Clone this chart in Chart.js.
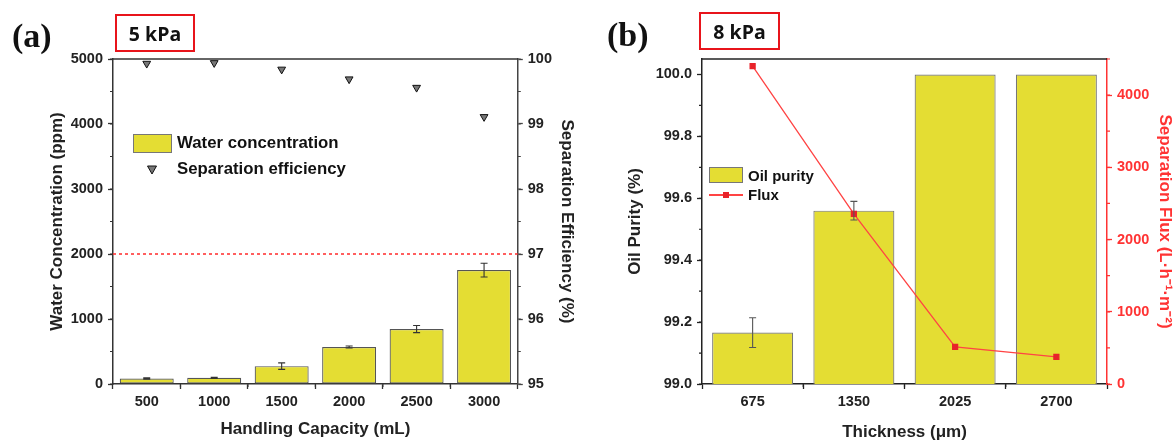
<!DOCTYPE html>
<html><head><meta charset="utf-8">
<script src="https://cdn.jsdelivr.net/npm/chart.js@4.4.1/dist/chart.umd.min.js"></script>
<style>
html,body{margin:0;padding:0;background:#fff;}
#wrap{position:relative;width:1176px;height:441px;overflow:hidden;font-family:'Liberation Sans',Arial,sans-serif;}
canvas{position:absolute;top:0;}
.lab{position:absolute;font-family:'Liberation Serif','Times New Roman',serif;font-weight:bold;font-size:34px;line-height:34px;color:#111;}
.kpa{position:absolute;border:2.5px solid #e8141b;box-sizing:border-box;font-family:'Open Sans',sans-serif;font-weight:bold;font-size:19.5px;display:flex;align-items:center;justify-content:center;color:#111;}
.leg{position:absolute;font-weight:bold;white-space:nowrap;color:#111;}
.sw{position:absolute;background:#E4DD33;box-sizing:border-box;border:1.5px solid #777;}
</style>
</head><body>
<div id="wrap">
  <canvas id="ca" width="590" height="441" style="left:0"></canvas>
  <canvas id="cb" width="586" height="441" style="left:590px"></canvas>

  <div class="lab" style="left:12px;top:19px;">(a)</div>
  <div class="kpa" style="left:115px;top:14px;width:80px;height:38px;">5 kPa</div>
  <div class="lab" style="left:607px;top:18px;">(b)</div>
  <div class="kpa" style="left:699px;top:12px;width:81px;height:38px;">8 kPa</div>

  <div class="sw" style="left:133px;top:134px;width:39px;height:19px;"></div>
  <div class="leg" style="left:177px;top:133px;height:20px;line-height:20px;font-size:16.8px;">Water concentration</div>
  <svg style="position:absolute;left:147px;top:165px;" width="10" height="10"><polygon points="0.5,1 9.5,1 5,9" fill="#777" stroke="#111" stroke-width="1"/></svg>
  <div class="leg" style="left:177px;top:159px;height:20px;line-height:20px;font-size:16.8px;">Separation efficiency</div>

  <div class="sw" style="left:709px;top:167px;width:34px;height:16px;"></div>
  <div class="leg" style="left:748px;top:166px;height:19px;line-height:19px;font-size:15px;">Oil purity</div>
  <div style="position:absolute;left:709px;top:194px;width:34px;height:1.5px;background:#f44;"></div>
  <div style="position:absolute;left:723px;top:192px;width:6px;height:6px;background:#e8232a;"></div>
  <div class="leg" style="left:748px;top:185px;height:19px;line-height:19px;font-size:15px;">Flux</div>
</div>
<script>
// ---------- data ----------
const capacity = ['500', '1000', '1500', '2000', '2500', '3000'];
const waterConc = [85, 95, 275, 570, 845, 1752];
const waterErr = [10, 8, 50, 15, 55, 105];
const sepEff = [99.93, 99.94, 99.84, 99.69, 99.56, 99.11];
const waterLimit = 2000;
const waterTicks = [0, 1000, 2000, 3000, 4000, 5000];
const effTicks = [95, 96, 97, 98, 99, 100];

const thickness = ['675', '1350', '2025', '2700'];
const oilPurity = [99.166, 99.56, 100.0, 100.0];
const oilErr = [0.048, 0.03, 0, 0];
const flux = [4400, 2355, 515, 375];
const purityTicks = [99.0, 99.2, 99.4, 99.6, 99.8, 100.0];
const fluxTicks = [0, 1000, 2000, 3000, 4000];

// ---------- styles ----------
const FONT = "'Liberation Sans', Arial, sans-serif";
Chart.defaults.font.family = FONT;
Chart.defaults.font.weight = 'bold';
Chart.defaults.color = '#222';
const YELLOW = '#E4DD33';
const RED = '#f33';

const tickFont = {family: FONT, size: 14.5, weight: 'bold'};
const titleFont = {family: FONT, size: 17, weight: 'bold', lineHeight: 1.2};

function axisStyle(color) {
  return {
    grid: {drawOnChartArea: false, drawTicks: true, tickLength: 5, tickWidth: 1.3, tickColor: color},
    border: {display: true, color: color, width: 1.5}
  };
}
function useTicks(list) {
  return axis => { axis.ticks = list.map(v => ({value: v})); };
}

// ---------- plugins ----------
const errorBars = {
  id: 'errorBars',
  afterDatasetsDraw(chart) {
    const ctx = chart.ctx;
    chart.data.datasets.forEach((ds, i) => {
      if (!ds.errors) return;
      const meta = chart.getDatasetMeta(i);
      const ys = chart.scales[meta.yAxisID];
      ctx.save();
      ctx.strokeStyle = ds.errorColor || '#333';
      ctx.lineWidth = 1.1;
      meta.data.forEach((el, j) => {
        const e = ds.errors[j];
        if (!e) return;
        const v = ds.data[j];
        const yTop = ys.getPixelForValue(v + e), yBot = ys.getPixelForValue(v - e);
        const x = el.x, cap = 3.5;
        ctx.beginPath();
        ctx.moveTo(x, yTop); ctx.lineTo(x, yBot);
        ctx.moveTo(x - cap, yTop); ctx.lineTo(x + cap, yTop);
        ctx.moveTo(x - cap, yBot); ctx.lineTo(x + cap, yBot);
        ctx.stroke();
      });
      ctx.restore();
    });
  }
};

const frame = {
  id: 'frame',
  afterDraw(chart, args, opts) {
    const ctx = chart.ctx, a = chart.chartArea;
    ctx.save();
    ctx.strokeStyle = opts.topColor || '#333';
    ctx.lineWidth = 1.5;
    ctx.beginPath();
    ctx.moveTo(a.left, a.top); ctx.lineTo(a.right, a.top);
    ctx.stroke();
    if (opts.limit !== undefined) {
      const y = chart.scales[opts.limitAxis].getPixelForValue(opts.limit);
      ctx.strokeStyle = '#ff2a2a';
      ctx.lineWidth = 1.6;
      ctx.setLineDash([3, 3]);
      ctx.beginPath();
      ctx.moveTo(a.left, y); ctx.lineTo(a.right, y);
      ctx.stroke();
      ctx.setLineDash([]);
    }
    const minor = opts.minor || {};
    for (const id in minor) {
      const s = chart.scales[id];
      ctx.strokeStyle = s.options.border.color;
      ctx.lineWidth = 1.2;
      ctx.beginPath();
      if (s.type === 'category') {
        const n = s.getLabels().length;
        for (let k = 0; k < n - 1; k++) {
          const x = (s.getPixelForValue(k) + s.getPixelForValue(k + 1)) / 2;
          ctx.moveTo(x, s.top); ctx.lineTo(x, s.top + 3);
        }
      } else {
        const step = minor[id];
        const n = Math.floor((s.max - s.min) / step + 1e-9);
        for (let k = 0; k <= n; k++) {
          const y = s.getPixelForValue(s.min + k * step);
          if (s.position === 'left') { ctx.moveTo(s.right, y); ctx.lineTo(s.right - 3, y); }
          else { ctx.moveTo(s.left, y); ctx.lineTo(s.left + 3, y); }
        }
      }
      ctx.stroke();
    }
    ctx.restore();
  }
};

// ---------- chart (a) ----------
new Chart(document.getElementById('ca'), {
  type: 'bar',
  data: {
    labels: capacity,
    datasets: [
      {
        type: 'bar', label: 'Water concentration', data: waterConc, errors: waterErr, errorColor: '#333',
        backgroundColor: YELLOW, borderColor: '#555', borderWidth: 1.2, borderSkipped: false,
        barPercentage: 0.8, categoryPercentage: 1.0, yAxisID: 'y', order: 2
      },
      {
        type: 'line', label: 'Separation efficiency', data: sepEff, showLine: false,
        pointStyle: 'triangle', rotation: 180, pointRadius: 4.5,
        pointBackgroundColor: '#777', pointBorderColor: '#111', pointBorderWidth: 1,
        yAxisID: 'y1', order: 1
      }
    ]
  },
  options: {
    responsive: false, animation: false,
    layout: {padding: {left: 43, top: 59, right: 9, bottom: 1.8}},
    plugins: {
      legend: {display: false}, tooltip: {enabled: false},
      frame: {topColor: '#333', limit: waterLimit, limitAxis: 'y', minor: {x: 1, y: 500, y1: 0.5}}
    },
    scales: {
      x: Object.assign({
        type: 'category', position: 'bottom', offset: true,
        ticks: {font: tickFont, color: '#222', padding: 4, maxRotation: 0, autoSkip: false},
        title: {display: true, text: 'Handling Capacity (mL)', font: titleFont, color: '#222', padding: {top: 0, bottom: 0}},
        afterFit: s => { s.height = 55.2; }
      }, axisStyle('#333')),
      y: Object.assign({
        type: 'linear', position: 'left', min: 0, max: 5000,
        ticks: {font: tickFont, color: '#222', padding: 5, autoSkip: false, callback: v => String(v)},
        afterBuildTicks: useTicks(waterTicks),
        title: {display: true, text: 'Water Concentration (ppm)', font: titleFont, color: '#222', padding: {top: 4, bottom: 0}},
        afterFit: s => { s.width = 70; }
      }, axisStyle('#333')),
      y1: Object.assign({
        type: 'linear', position: 'right', min: 95, max: 100,
        ticks: {font: tickFont, color: '#222', padding: 5, autoSkip: false, callback: v => String(v)},
        afterBuildTicks: useTicks(effTicks),
        title: {display: true, text: 'Separation Efficiency (%)', font: titleFont, color: '#222', padding: {top: 4, bottom: 0}},
        afterFit: s => { s.width = 63.2; }
      }, axisStyle('#444'))
    }
  },
  plugins: [errorBars, frame]
});

// ---------- chart (b) ----------
new Chart(document.getElementById('cb'), {
  type: 'bar',
  data: {
    labels: thickness,
    datasets: [
      {
        type: 'bar', label: 'Oil purity', data: oilPurity, errors: oilErr, errorColor: '#555',
        backgroundColor: YELLOW, borderColor: '#777', borderWidth: 1.2, borderSkipped: false,
        barPercentage: 0.8, categoryPercentage: 1.0, yAxisID: 'y', order: 2
      },
      {
        type: 'line', label: 'Flux', data: flux, borderColor: '#f44', borderWidth: 1.3,
        pointStyle: 'rect', pointRadius: 3.5, pointBackgroundColor: '#e8232a', pointBorderColor: '#e8232a',
        yAxisID: 'y1', order: 1, tension: 0
      }
    ]
  },
  options: {
    responsive: false, animation: false,
    layout: {padding: {left: 31, top: 59, right: 0.8, bottom: 0.5}},
    plugins: {
      legend: {display: false}, tooltip: {enabled: false},
      frame: {topColor: '#222', minor: {x: 1, y: 0.1, y1: 500}}
    },
    scales: {
      x: Object.assign({
        type: 'category', position: 'bottom', offset: true,
        ticks: {font: tickFont, color: '#222', padding: 4, maxRotation: 0, autoSkip: false},
        title: {display: true, text: 'Thickness (\u03bcm)', font: Object.assign({}, titleFont, {lineHeight: 1.0}), color: '#222', padding: {top: 0, bottom: 0}},
        afterFit: s => { s.height = 56.5; }
      }, axisStyle('#222')),
      y: Object.assign({
        type: 'linear', position: 'left', min: 99, max: 100.05,
        ticks: {font: tickFont, color: '#222', padding: 5, autoSkip: false, callback: v => Number(v).toFixed(1)},
        afterBuildTicks: useTicks(purityTicks),
        title: {display: true, text: 'Oil Purity (%)', font: titleFont, color: '#222', padding: {top: 4, bottom: 0}},
        afterFit: s => { s.width = 81; }
      }, axisStyle('#222')),
      y1: Object.assign({
        type: 'linear', position: 'right', min: 0, max: 4500,
        ticks: {font: tickFont, color: RED, padding: 5, autoSkip: false, callback: v => String(v)},
        afterBuildTicks: useTicks(fluxTicks),
        title: {display: true, text: 'Separation Flux (L\u00b7h\u207b\u00b9\u00b7m\u207b\u00b2)', font: titleFont, color: RED, padding: {top: 0, bottom: 0}},
        afterFit: s => { s.width = 68.2; }
      }, axisStyle(RED))
    }
  },
  plugins: [errorBars, frame]
});
</script>
</body></html>
